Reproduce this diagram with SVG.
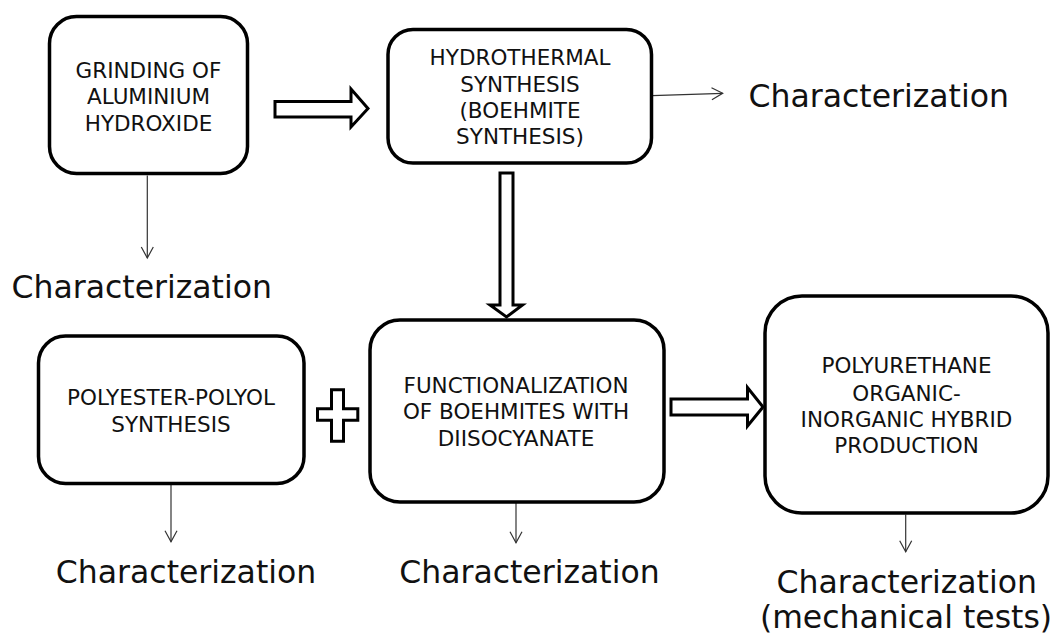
<svg xmlns="http://www.w3.org/2000/svg" width="1058" height="637" viewBox="0 0 1058 637">
<style>
.box{fill:#fff;stroke:#000;stroke-width:3.5}
.bt{font-family:"DejaVu Sans",Verdana,sans-serif;font-size:21.5px;fill:#111;text-anchor:middle}
.ch{font-family:"DejaVu Sans",Verdana,sans-serif;font-size:31.5px;fill:#111}
.thin{stroke:#333;stroke-width:1.2;fill:none;marker-end:url(#open)}
.blk{fill:#fff;stroke:#000;stroke-width:3;stroke-linejoin:miter}
</style>
<defs>
<marker id="open" markerUnits="userSpaceOnUse" markerWidth="16" markerHeight="16" viewBox="-13 -8 16 16" refX="0" refY="0" orient="auto">
<path d="M-11,-6 L0,0 L-11,6" fill="none" stroke="#333" stroke-width="1.2"/>
</marker>
</defs>
<rect width="1058" height="637" fill="#fff"/>
<g id="connectors">
<path class="blk" d="M275,101.5 H351 V89 L368,108.5 L351,127 V117 H275 Z"/>
<path class="blk" d="M500,173 H513 V305 H522.5 L506.5,317 L490,305 H500 Z"/>
<path class="blk" d="M671,399 H747.5 V387.5 L763,407 L747.5,426 V415 H671 Z"/>
<path class="blk" d="M331.5,389.8 H343.5 V408.8 H357.8 V420.2 H343.5 V441.2 H331.5 V420.2 H317.5 V408.8 H331.5 Z"/>
<line class="thin" x1="147.3" y1="175.5" x2="147.3" y2="258"/>
<line class="thin" x1="652" y1="95.7" x2="722.7" y2="93.3"/>
<line class="thin" x1="171" y1="484.5" x2="171" y2="541.7"/>
<line class="thin" x1="516" y1="503" x2="516" y2="542.7"/>
<line class="thin" x1="905.7" y1="514.5" x2="905.7" y2="551.7"/>
</g>
<g id="grinding">
<rect class="box" x="49.5" y="16.5" width="198" height="157" rx="27"/>
<text class="bt" x="148.5" y="78.3">GRINDING OF</text>
<text class="bt" x="148.5" y="104.3">ALUMINIUM</text>
<text class="bt" x="148.5" y="131">HYDROXIDE</text>
</g>
<g id="hydrothermal">
<rect class="box" x="388" y="29.5" width="263.5" height="133.5" rx="25"/>
<text class="bt" x="520" y="65">HYDROTHERMAL</text>
<text class="bt" x="520" y="91.7">SYNTHESIS</text>
<text class="bt" x="520" y="118.3">(BOEHMITE</text>
<text class="bt" x="520" y="144">SYNTHESIS)</text>
</g>
<g id="polyester">
<rect class="box" x="38.5" y="336" width="265.5" height="147.5" rx="27"/>
<text class="bt" x="171" y="405">POLYESTER-POLYOL</text>
<text class="bt" x="171" y="431.7">SYNTHESIS</text>
</g>
<g id="functionalization">
<rect class="box" x="370" y="320" width="294" height="182" rx="30"/>
<text class="bt" x="516" y="392.7">FUNCTIONALIZATION</text>
<text class="bt" x="516" y="419">OF BOEHMITES WITH</text>
<text class="bt" x="516" y="446">DIISOCYANATE</text>
</g>
<g id="polyurethane">
<rect class="box" x="765" y="296" width="283" height="217" rx="37"/>
<text class="bt" x="906.5" y="373.3">POLYURETHANE</text>
<text class="bt" x="906.5" y="400.7">ORGANIC-</text>
<text class="bt" x="906.5" y="426.7">INORGANIC HYBRID</text>
<text class="bt" x="906.5" y="452.7">PRODUCTION</text>
</g>
<g id="labels">
<text class="ch" x="11.5" y="298.3">Characterization</text>
<text class="ch" x="748.5" y="106.7">Characterization</text>
<text class="ch" x="55.8" y="583.3">Characterization</text>
<text class="ch" x="399.2" y="583.3">Characterization</text>
<text class="ch" x="906.7" y="592.7" text-anchor="middle">Characterization</text>
<text class="ch" x="906" y="628" text-anchor="middle">(mechanical tests)</text>
</g>
</svg>
